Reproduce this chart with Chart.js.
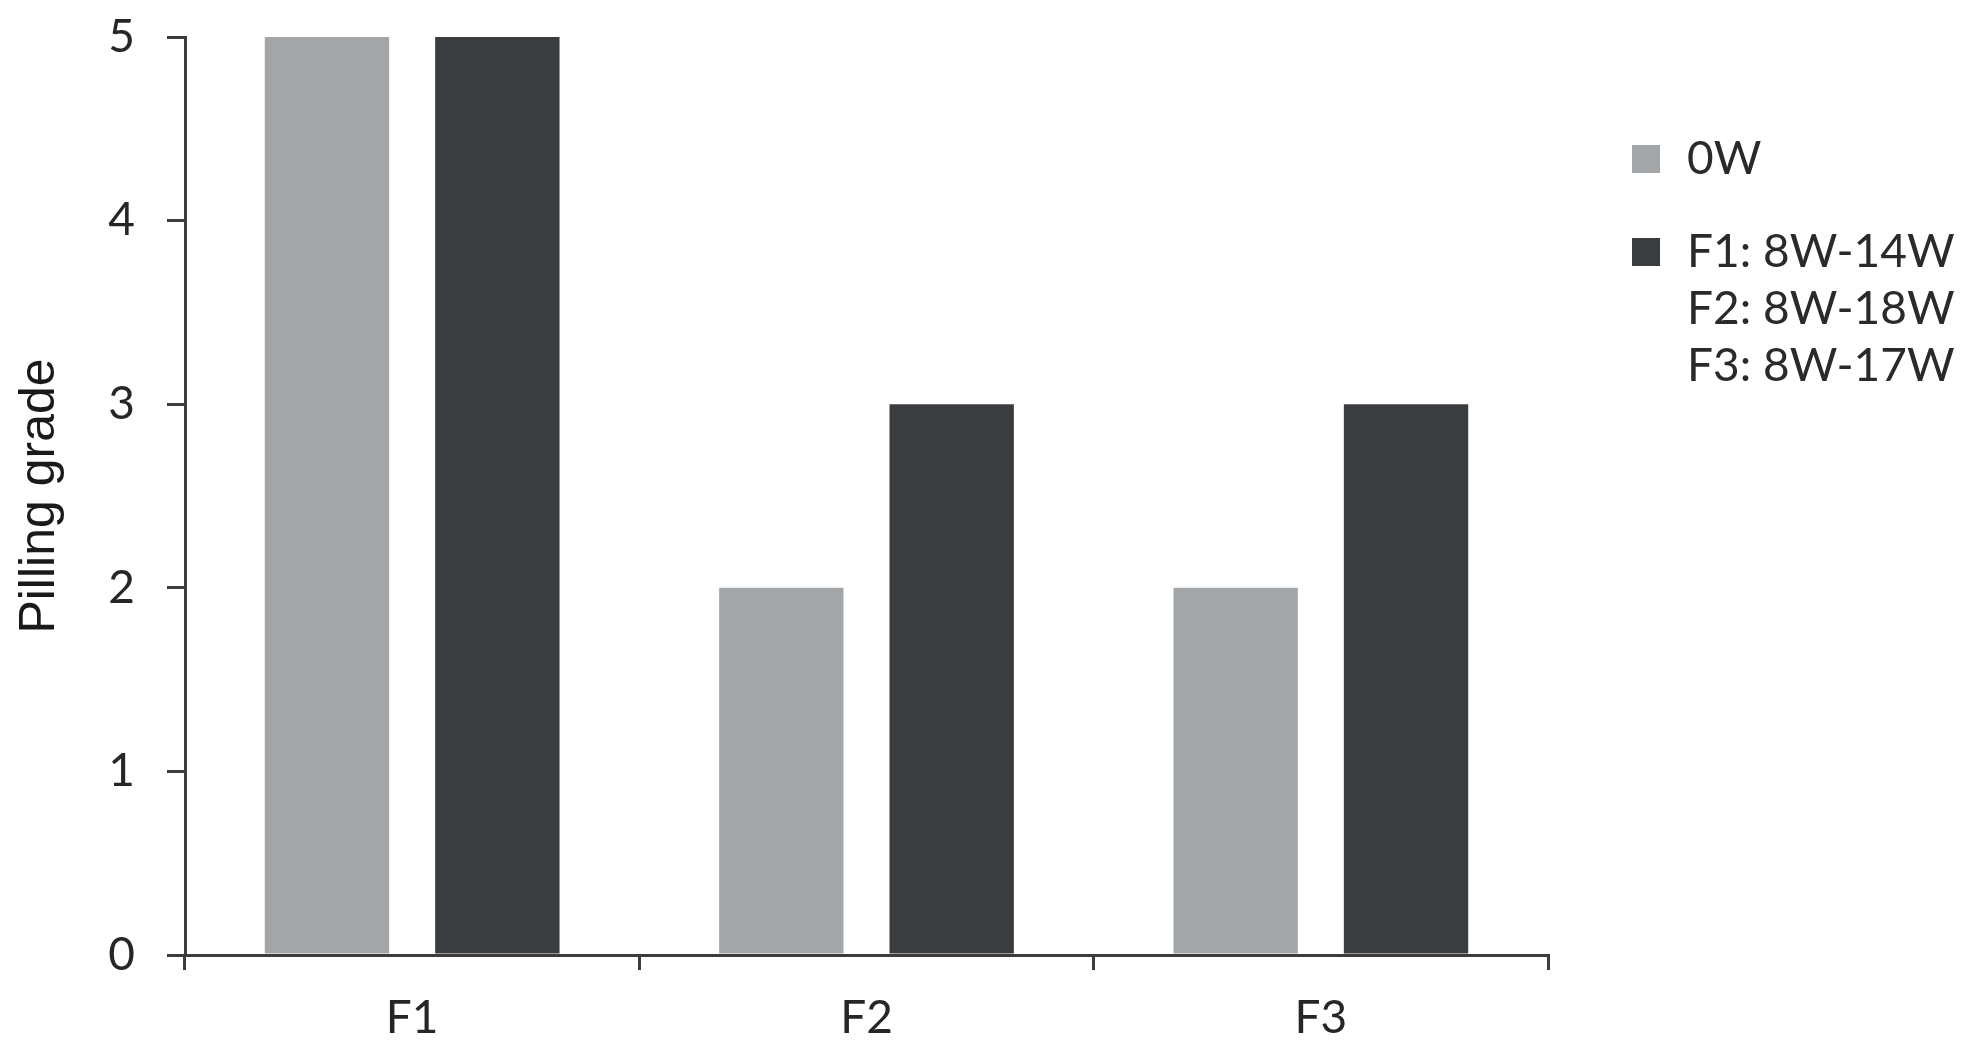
<!DOCTYPE html>
<html>
<head>
<meta charset="utf-8">
<script src="https://cdn.jsdelivr.net/npm/chart.js@4"></script>
<style>
  html, body { margin: 0; padding: 0; background: #fff; }
  #wrap { width: 1970px; height: 1057px; }
</style>
</head>
<body>
<div id="wrap"><canvas id="chart" width="1970" height="1057"></canvas></div>
<script>
const categories = ['F1', 'F2', 'F3'];
const before = [5, 2, 2];
const after = [5, 3, 3];
const seriesNames = [['0W'], ['F1: 8W-14W', 'F2: 8W-18W', 'F3: 8W-17W']];
const yTicks = [0, 1, 2, 3, 4, 5];

const lightGrey = '#a3a6a8';
const darkGrey = '#3a3d40';
const axisColor = '#3c3c3c';

// legend drawn by hand so the second entry can wrap over three lines
const sideLegend = {
  id: 'sideLegend',
  afterDraw(chart) {
    const ctx = chart.ctx;
    const starts = [159, 252];
    ctx.save();
    ctx.font = '46px Lato';
    ctx.textBaseline = 'middle';
    ctx.textAlign = 'left';
    chart.data.datasets.forEach((ds, i) => {
      const y = starts[i];
      ctx.fillStyle = ds.backgroundColor;
      ctx.fillRect(1632, y - 14, 28, 28);
      ctx.fillStyle = '#2a2a2a';
      seriesNames[i].forEach((line, j) => ctx.fillText(line, 1687, y + j * 57));
    });
    ctx.restore();
  }
};

new Chart(document.getElementById('chart'), {
  type: 'bar',
  data: {
    labels: categories,
    datasets: [
      { label: seriesNames[0].join(' '), data: before, backgroundColor: lightGrey },
      { label: seriesNames[1].join(' '), data: after, backgroundColor: darkGrey }
    ]
  },
  options: {
    responsive: false,
    animation: false,
    layout: { padding: { top: 37, right: 422, left: 0, bottom: 0 } },
    categoryPercentage: 0.75,
    barPercentage: 0.73,
    plugins: { legend: { display: false }, tooltip: { enabled: false } },
    scales: {
      x: {
        afterFit: s => { s.height = 102; },
        grid: { drawOnChartArea: false, drawTicks: true, tickLength: 15, color: axisColor, lineWidth: 3 },
        border: { color: axisColor, width: 3 },
        ticks: { color: '#262626', font: { family: 'Lato', size: 46 }, padding: 21 }
      },
      y: {
        min: 0,
        max: 5,
        afterFit: s => { s.width = 185; s.paddingTop = 0; s.paddingBottom = 0; },
        afterBuildTicks: s => { s.ticks = yTicks.map(v => ({ value: v })); },
        grid: { drawOnChartArea: false, drawTicks: true, tickLength: 18, color: axisColor, lineWidth: 3 },
        border: { color: axisColor, width: 3 },
        ticks: { color: '#262626', font: { family: 'Lato', size: 46 }, padding: 32 },
        title: {
          display: true,
          text: 'Pilling grade',
          color: '#1a1a1a',
          font: { family: 'Liberation Sans', size: 50 },
          padding: { top: 10, bottom: 0 }
        }
      }
    }
  },
  plugins: [sideLegend]
});
</script>
</body>
</html>
